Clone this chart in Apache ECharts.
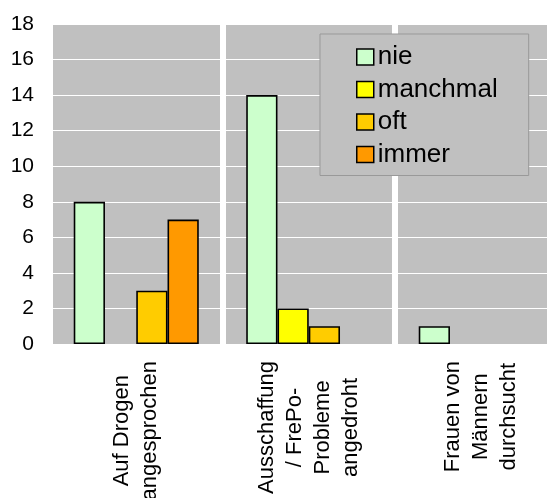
<!DOCTYPE html>
<html>
<head>
<meta charset="utf-8">
<script src="https://cdn.jsdelivr.net/npm/echarts@6/dist/echarts.min.js"></script>
<style>html,body{margin:0;padding:0;background:#fff}#c{width:547px;height:498px}</style>
</head>
<body>
<div id="c"></div>
<script>
var categories = [
  ['Auf Drogen', 'angesprochen'],
  ['Ausschaffung', '/ FrePo-', 'Probleme', 'angedroht'],
  ['Frauen von', 'Männern', 'durchsucht']
];
var seriesNames = ['nie', 'manchmal', 'oft', 'immer'];
var nie = [8, 14, 1];
var manchmal = [0, 2, 0];
var oft = [3, 1, 0];
var immer = [7, 0, 0];
var yTicks = [0, 2, 4, 6, 8, 10, 12, 14, 16, 18];

var colors = ['#CCFFCC', '#FFFF00', '#FFCC00', '#FF9900'];
var values = [nie, manchmal, oft, immer];
var FONT = '"Liberation Sans", Arial, sans-serif';

var chart = echarts.init(document.getElementById('c'), null, {renderer: 'canvas'});
var catKeys = categories.map(function (c) { return c.join('\n'); });

var series = seriesNames.map(function (name, i) {
  return {
    name: name,
    type: 'bar',
    barGap: '0%',
    barCategoryGap: '27.5%',
    itemStyle: {color: colors[i], borderColor: '#000', borderWidth: 1.6},
    data: values[i].map(function (v) { return v === 0 ? '-' : v; })
  };
});

chart.setOption({
  animation: false,
  textStyle: {fontFamily: FONT},
  grid: {
    left: 50, top: 24, height: 320, width: 517.5,
    outerBoundsMode: 'none',
    containLabel: false,
    show: true, backgroundColor: '#C0C0C0', borderWidth: 0
  },
  legend: {
    orient: 'vertical',
    left: 320, top: 34,
    padding: [10, 31, 8, 36],
    backgroundColor: '#C0C0C0',
    borderColor: '#999999',
    borderWidth: 1,
    itemWidth: 17, itemHeight: 16,
    itemGap: 6.5,
    icon: 'rect',
    itemStyle: {borderColor: '#000', borderWidth: 1.5},
    textStyle: {fontSize: 26, color: '#000', fontFamily: FONT, padding: [0, 0, 0, -1]},
    data: seriesNames
  },
  xAxis: {
    type: 'category',
    data: catKeys,
    axisLine: {show: false},
    axisTick: {show: false},
    splitLine: {show: true, lineStyle: {color: '#FFFFFF', width: 6}},
    axisLabel: {
      interval: 0,
      rotate: 90,
      margin: 17,
      align: 'right',
      verticalAlign: 'middle',
      color: '#000',
      fontSize: 22,
      fontFamily: FONT,
      lineHeight: 28,
      formatter: function (v) {
        return v.split('\n').map(function (s) { return '{c|' + s + '}'; }).join('\n');
      },
      rich: {c: {align: 'center', fontSize: 22, lineHeight: 28, fontFamily: FONT, color: '#000'}}
    }
  },
  yAxis: {
    type: 'value',
    min: yTicks[0], max: yTicks[yTicks.length - 1], interval: 2,
    axisLine: {show: false},
    axisTick: {show: false},
    splitLine: {show: true, lineStyle: {color: '#FFFFFF', width: 1}},
    axisLabel: {color: '#000', fontSize: 21, margin: 16, fontFamily: FONT}
  },
  series: series
});
</script>
</body>
</html>
